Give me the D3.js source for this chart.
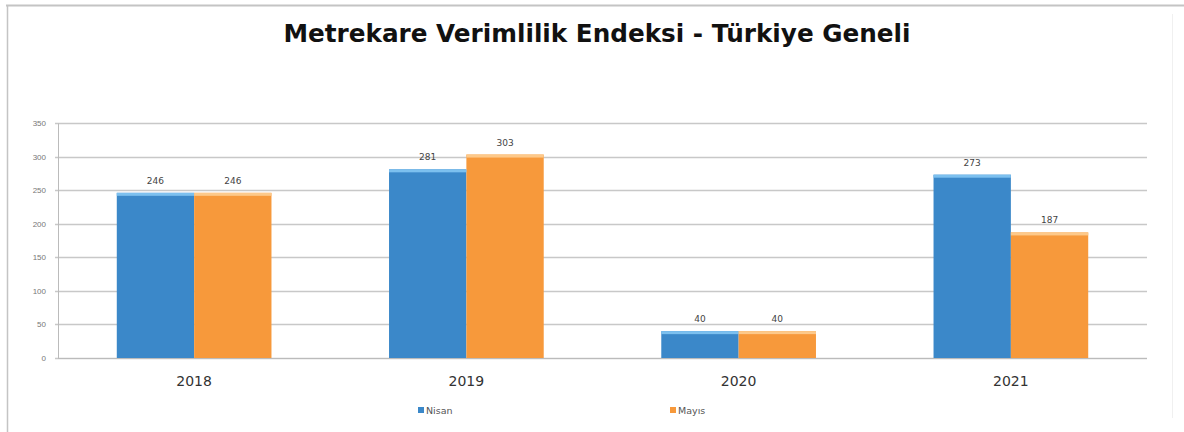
<!DOCTYPE html>
<html>
<head>
<meta charset="utf-8">
<script src="https://cdn.jsdelivr.net/npm/d3@7"></script>
<style>
  body { margin: 0; background: #fff; }
  svg { display: block; font-family: "DejaVu Sans", Verdana, sans-serif; }
</style>
</head>
<body>
<svg id="chart"></svg>
<script>
const years = ["2018", "2019", "2020", "2021"];
const seriesNames = ["Nisan", "Mayıs"];
const nisan = [246, 281, 40, 273];
const mayis = [246, 303, 40, 187];
const yTicks = [0, 50, 100, 150, 200, 250, 300, 350];

(function () {
    const width = 1184, height = 432;
    const margin = { top: 123, right: 37, bottom: 74, left: 58 };
    const colors = ["#3b88c9", "#f7993b"];
    const tops = ["#7cc0ef", "#fdc98a"];

    const svg = d3.select("#chart")
        .attr("width", width)
        .attr("height", height);

    // outer frame
    svg.append("line")
        .attr("x1", 6).attr("x2", width).attr("y1", 5.5).attr("y2", 5.5)
        .attr("stroke", "#c4c4c4").attr("stroke-width", 2);
    svg.append("line")
        .attr("x1", 7.5).attr("x2", 7.5).attr("y1", 5).attr("y2", height)
        .attr("stroke", "#c4c4c4").attr("stroke-width", 1.5);
    svg.append("line")
        .attr("x1", 1172.5).attr("x2", 1172.5).attr("y1", 14).attr("y2", 418)
        .attr("stroke", "#f0f0f0").attr("stroke-width", 1);

    svg.append("text")
        .attr("x", 597).attr("y", 42)
        .attr("text-anchor", "middle")
        .attr("textLength", 627)
        .attr("lengthAdjust", "spacingAndGlyphs")
        .style("font-size", "24.5px")
        .style("font-weight", "bold")
        .style("fill", "#111")
        .text("Metrekare Verimlilik Endeksi - Türkiye Geneli");

    const x0 = d3.scaleBand()
        .domain(years)
        .range([margin.left, width - margin.right]);

    const x1 = d3.scaleBand()
        .domain(seriesNames)
        .range([0, x0.bandwidth()])
        .paddingOuter(0.76)
        .paddingInner(0);

    const y = d3.scaleLinear()
        .domain([0, 350])
        .range([height - margin.bottom, margin.top]);

    // gridlines
    svg.append("g")
        .selectAll("line")
        .data(yTicks)
        .enter()
        .append("line")
        .attr("x1", margin.left - 3)
        .attr("x2", width - margin.right)
        .attr("y1", d => Math.round(y(d)) + 0.5)
        .attr("y2", d => Math.round(y(d)) + 0.5)
        .attr("stroke", "#c8c8c8")
        .attr("stroke-width", 1.5);

    const yAxis = svg.append("g")
        .attr("transform", `translate(${margin.left},0)`)
        .call(d3.axisLeft(y).tickValues(yTicks).tickSize(0).tickPadding(12));
    yAxis.select(".domain").attr("stroke", "#bbb");
    yAxis.selectAll("text").style("font-size", "8px").style("fill", "#777");

    const rows = years.map((yr, i) => ({ year: yr, values: [nisan[i], mayis[i]] }));

    const groups = svg.append("g")
        .selectAll("g")
        .data(rows)
        .enter()
        .append("g")
        .attr("transform", d => `translate(${x0(d.year)},0)`);

    groups.selectAll("rect.bar")
        .data(d => d.values.map((v, k) => ({ name: seriesNames[k], v, k })))
        .enter()
        .append("rect")
        .attr("class", "bar")
        .attr("x", d => x1(d.name))
        .attr("y", d => y(d.v))
        .attr("width", x1.bandwidth())
        .attr("height", d => y(0) - y(d.v))
        .attr("fill", d => colors[d.k]);

    groups.selectAll("rect.top")
        .data(d => d.values.map((v, k) => ({ name: seriesNames[k], v, k })))
        .enter()
        .append("rect")
        .attr("class", "top")
        .attr("x", d => x1(d.name))
        .attr("y", d => y(d.v))
        .attr("width", x1.bandwidth())
        .attr("height", 3)
        .attr("fill", d => tops[d.k]);

    groups.selectAll("text.val")
        .data(d => d.values.map((v, k) => ({ name: seriesNames[k], v, k })))
        .enter()
        .append("text")
        .attr("class", "val")
        .attr("x", d => x1(d.name) + x1.bandwidth() / 2)
        .attr("y", d => y(d.v) - 9)
        .attr("text-anchor", "middle")
        .style("font-size", "9px")
        .style("fill", "#444")
        .text(d => d.v);

    // x axis baseline + labels
    svg.append("line")
        .attr("x1", margin.left).attr("x2", width - margin.right)
        .attr("y1", y(0) + 0.5).attr("y2", y(0) + 0.5)
        .attr("stroke", "#bbb");

    svg.append("g")
        .selectAll("text")
        .data(years)
        .enter()
        .append("text")
        .attr("x", d => x0(d) + x0.bandwidth() / 2)
        .attr("y", 386)
        .attr("text-anchor", "middle")
        .style("font-size", "14px")
        .style("fill", "#333")
        .text(d => d);

    // legend
    const legendX = [418, 670];
    const legend = svg.append("g")
        .selectAll("g")
        .data(seriesNames)
        .enter()
        .append("g")
        .attr("transform", (d, i) => `translate(${legendX[i]},407)`);
    legend.append("rect")
        .attr("width", 6).attr("height", 6)
        .attr("fill", (d, i) => colors[i]);
    legend.append("text")
        .attr("x", 8).attr("y", 7)
        .style("font-size", "9.5px")
        .style("fill", "#555")
        .text(d => d);
})();
</script>
</body>
</html>
